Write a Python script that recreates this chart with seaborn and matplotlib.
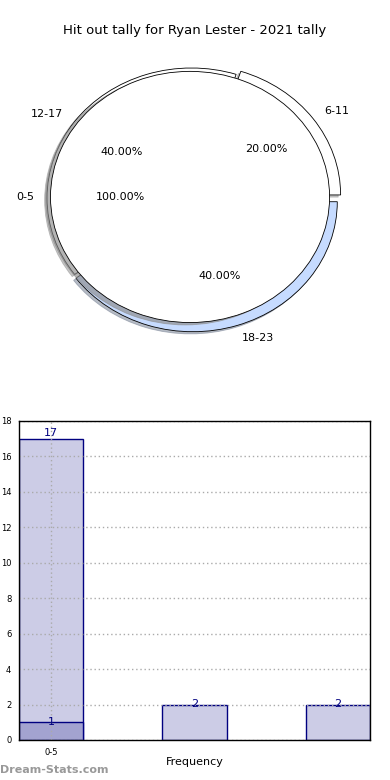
import matplotlib
matplotlib.use("Agg")
import matplotlib.pyplot as plt
import seaborn as sns
import pandas as pd

sns.set_style("white")
plt.rcParams["font.family"] = ["DejaVu Sans"]
plt.rcParams["text.color"] = "black"
plt.rcParams["axes.labelcolor"] = "black"
plt.rcParams["xtick.color"] = "black"
plt.rcParams["ytick.color"] = "black"

# 資料
title = "Hit out tally for Ryan Lester - 2021 tally"
outer_labels = ["6-11", "12-17", "18-23"]
outer_values = [20, 40, 40]
outer_colors = ["white", "white", "#c6dbff"]
inner_labels = ["0-5"]
inner_values = [100]

bar_labels = ["0-5", "6-11", "12-17"]
bar_values = [17, 2, 2]
low_labels = ["0-5"]
low_values = [1]

fig = plt.figure(figsize=(3.9, 7.8), dpi=100)

# 圓餅圖
ax1 = fig.add_axes([0.028, 0.5378, 0.926, 0.4167])
ax1.pie(outer_values, labels=outer_labels, colors=outer_colors,
        autopct="%.2f%%", pctdistance=0.6, labeldistance=1.1,
        explode=(0.04, 0, 0.03), startangle=0,
        shadow={"ox": -0.012, "oy": -0.012, "shade": 0.45},
        wedgeprops=dict(edgecolor="black", linewidth=0.6),
        textprops=dict(fontsize=8, zorder=6))
ax1.pie(inner_values, labels=inner_labels, colors=["white"],
        autopct="%.2f%%", pctdistance=0.5, labeldistance=1.12,
        radius=0.966, center=(-0.01, 0.008), startangle=0,
        shadow={"ox": -0.024, "oy": -0.013, "shade": 0.45, "alpha": 0.65},
        wedgeprops=dict(edgecolor="black", linewidth=0.6, zorder=3),
        textprops=dict(fontsize=8, zorder=6))
ax1.set_aspect("auto")
ax1.set_xlim(-1.25, 1.25)
ax1.set_ylim(-1.25, 1.25)
fig.text(0.5, 0.961, title, ha="center", va="center", fontsize=9.5)

# 長條圖
ax2 = fig.add_axes([0.0487, 0.0513, 0.9, 0.409])
df = pd.DataFrame({"label": bar_labels, "value": bar_values})
sns.barplot(data=df, x="label", y="value", ax=ax2, width=0.45,
            color="#cccce6", edgecolor="navy", linewidth=1, saturation=1)
df_low = pd.DataFrame({"label": low_labels, "value": low_values})
sns.barplot(data=df_low, x="label", y="value", ax=ax2, width=0.45,
            color="#a3a3d0", edgecolor="navy", linewidth=1, saturation=1)

for i, v in enumerate(bar_values):
    ax2.text(i, v + 0.05, str(v), ha="center", va="bottom" if i == 0 else "center",
             color="navy", fontsize=8)
for i, v in enumerate(low_values):
    ax2.text(i, v, str(v), ha="center", va="center", color="navy", fontsize=8)

ax2.set_xlim(-0.225, 2.225)
ax2.set_ylim(0, 18)
ax2.set_yticks(range(0, 19, 2))
ax2.set_xticks([0])
ax2.set_xticklabels(["0-5"])
ax2.tick_params(labelsize=6, length=2)
ax2.grid(True, linestyle=(0, (1, 2)), color="#aaaaaa", linewidth=1)
ax2.set_axisbelow(False)
for s in ax2.spines.values():
    s.set_color("black")
    s.set_linewidth(1)
    s.set_zorder(5)
ax2.set_xlabel("Frequency", fontsize=8, labelpad=0)
ax2.set_ylabel("Stat Hitout Tally", fontsize=8)
ax2.yaxis.set_label_coords(-0.06, 0.5)

fig.text(0.0, 0.013, "Dream-Stats.com", color="#999999", fontsize=8,
         fontweight="semibold", ha="left", va="center")

fig.savefig("out.png", dpi=100)
